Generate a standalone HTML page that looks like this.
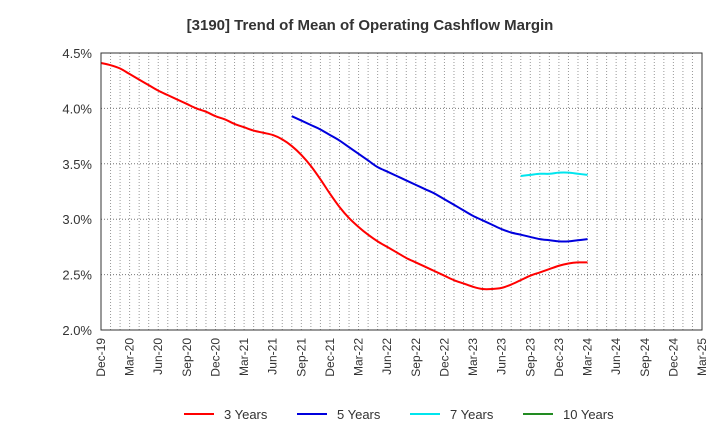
<!DOCTYPE html>
<html><head><meta charset="utf-8"><style>
body{margin:0;background:#fff;}
svg text{font-family:"Liberation Sans",sans-serif;}
</style></head><body>
<svg width="720" height="440" xmlns="http://www.w3.org/2000/svg" id="chart">
<text x="370" y="30" text-anchor="middle" font-size="15" font-weight="bold" fill="#333">[3190]  Trend of Mean of Operating Cashflow Margin</text>
<g id="grid"></g>
<g id="series"></g>
<rect x="101" y="53" width="601" height="277" fill="none" stroke="#333" stroke-width="1"/>
<g id="yaxis"></g>
<g id="xaxis"></g>
<g id="legend"></g>
</svg>
<script>
const xLabels=["Dec-19","Mar-20","Jun-20","Sep-20","Dec-20","Mar-21","Jun-21","Sep-21","Dec-21","Mar-22","Jun-22","Sep-22","Dec-22","Mar-23","Jun-23","Sep-23","Dec-23","Mar-24","Jun-24","Sep-24","Dec-24","Mar-25"];
const yTicks=[2.0,2.5,3.0,3.5,4.0,4.5];
const s3Start=0;
const s3=[4.41,4.39,4.36,4.31,4.26,4.21,4.16,4.12,4.08,4.04,4.00,3.97,3.93,3.90,3.86,3.83,3.80,3.78,3.76,3.72,3.66,3.58,3.48,3.36,3.23,3.11,3.01,2.93,2.86,2.80,2.75,2.70,2.65,2.61,2.57,2.53,2.49,2.45,2.42,2.39,2.37,2.37,2.38,2.41,2.45,2.49,2.52,2.55,2.58,2.60,2.61,2.61,2.60,2.57,2.53,2.47].slice(0,52);
const s5Start=20;
const s5=[3.93,3.89,3.85,3.81,3.76,3.71,3.65,3.59,3.53,3.47,3.43,3.39,3.35,3.31,3.27,3.23,3.18,3.13,3.08,3.03,2.99,2.95,2.91,2.88,2.86,2.84,2.82,2.81,2.80,2.80,2.81,2.82];
const s7Start=44;
const s7=[3.39,3.40,3.41,3.41,3.42,3.42,3.41,3.40];
const x0=101,x1=702,y0=330,y1=53,nMonths=63;
const NS="http://www.w3.org/2000/svg";
function xs(i){return x0+(x1-x0)*i/nMonths;}
function ys(v){return y0-(v-2.0)/(4.5-2.0)*(y0-y1);}
function mk(tag,attrs,parent){const e=document.createElementNS(NS,tag);for(const k in attrs)e.setAttribute(k,attrs[k]);parent.appendChild(e);return e;}
const grid=document.getElementById('grid');
for(let i=1;i<nMonths;i++){
  const l=mk('line',{x1:xs(i),x2:xs(i),y1:y1,y2:y0,stroke:'#999','stroke-width':1,'stroke-dasharray':'1,2'},grid);
  
  
}
const ya=document.getElementById('yaxis');
yTicks.forEach(v=>{
  if(v>2.0&&v<4.5){const l=mk('line',{x1:x0,x2:x1,y1:ys(v),y2:ys(v),stroke:'#777','stroke-width':1,'stroke-dasharray':'1,2'},grid);
  
  }
  const t=mk('text',{x:92,y:ys(v)+5,'text-anchor':'end','font-size':13,fill:'#333'},ya);
  t.textContent=v.toFixed(1)+'%';
  
  
});
const xa=document.getElementById('xaxis');
xLabels.forEach((lab,k)=>{
  const x=xs(k*3);
  const t=mk('text',{x:0,y:0,'text-anchor':'end','font-size':12,fill:'#333',transform:`translate(${x+4},338) rotate(-90)`},xa);
  t.textContent=lab;
  
  
});
function path(vals,start){
  const p=vals.map((v,i)=>[xs(start+i),ys(v)]);
  let d=`M${p[0][0]},${p[0][1]}`;
  for(let i=0;i<p.length-1;i++){
    const a=p[Math.max(i-1,0)],b=p[i],c=p[i+1],e=p[Math.min(i+2,p.length-1)];
    d+=` C${b[0]+(c[0]-a[0])/6},${b[1]+(c[1]-a[1])/6} ${c[0]-(e[0]-b[0])/6},${c[1]-(e[1]-b[1])/6} ${c[0]},${c[1]}`;
  }
  return d;
}
const sg=document.getElementById('series');
const l3=mk('path',{d:path(s3,s3Start),fill:'none',stroke:'#ff0000','stroke-width':2},sg);


const l5=mk('path',{d:path(s5,s5Start),fill:'none',stroke:'#0000dd','stroke-width':2},sg);


const l7=mk('path',{d:path(s7,s7Start),fill:'none',stroke:'#00e5ee','stroke-width':2},sg);


const lg=document.getElementById('legend');
[["3 Years","#ff0000"],["5 Years","#0000dd"],["7 Years","#00e5ee"],["10 Years","#228b22"]].forEach(([n,c],i)=>{
  const x=184+113*i;
  const g=mk('g',{},lg);
  
  
  mk('line',{x1:x,x2:x+30,y1:414,y2:414,stroke:c,'stroke-width':2},g);
  const t=mk('text',{x:x+40,y:419,'font-size':13,fill:'#333'},g);
  t.textContent=n;
});
</script>
</body></html>
